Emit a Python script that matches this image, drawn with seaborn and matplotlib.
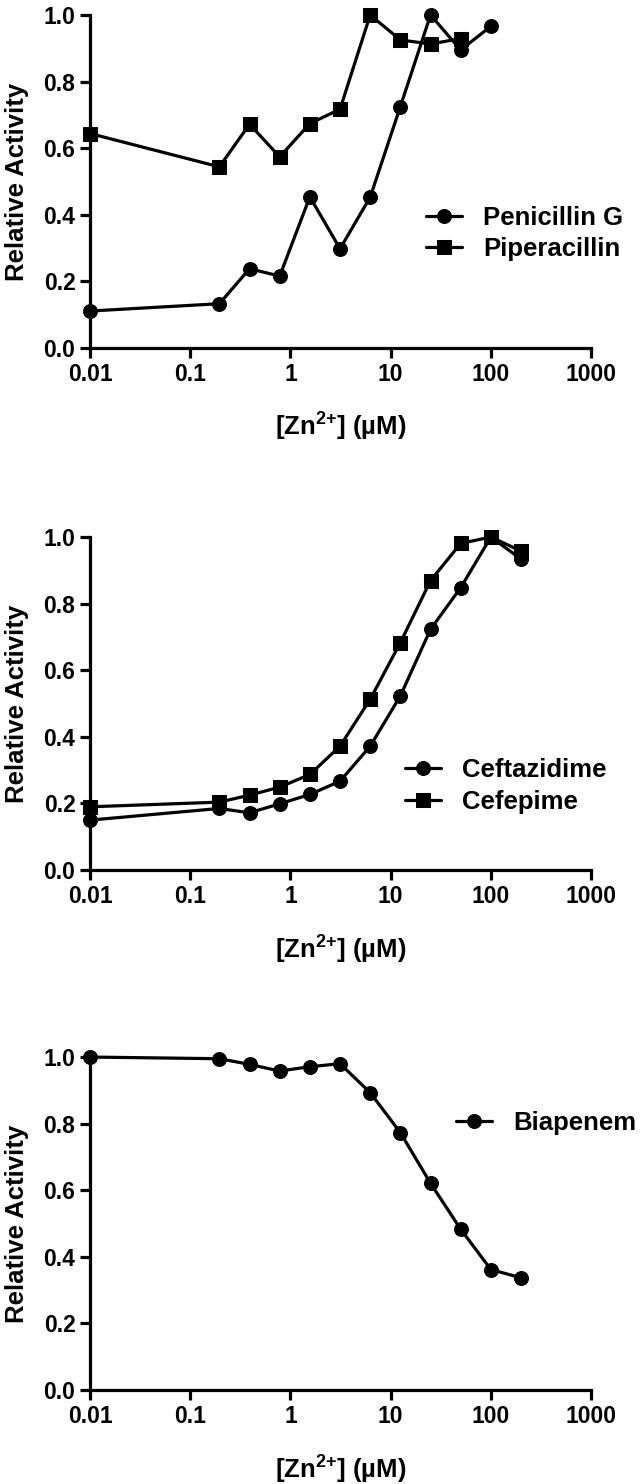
import pandas as pd
import matplotlib
matplotlib.use("Agg")
import matplotlib.pyplot as plt
import seaborn as sns

# zinc concentrations (uM); the zero point is drawn at 0.01 on the log axis
zn = [0.01, 0.1953, 0.3906, 0.78125, 1.5625, 3.125, 6.25, 12.5, 25, 50, 100, 200]

penicillin_g = [0.111, 0.133, 0.238, 0.216, 0.454, 0.298, 0.453, 0.725, 1.0, 0.895, 0.966]
piperacillin = [0.644, 0.544, 0.672, 0.574, 0.674, 0.717, 1.0, 0.925, 0.913, 0.929]
ceftazidime = [0.150, 0.185, 0.172, 0.199, 0.227, 0.267, 0.372, 0.523, 0.723, 0.848, 1.0, 0.934]
cefepime = [0.190, 0.204, 0.225, 0.249, 0.287, 0.372, 0.513, 0.683, 0.869, 0.981, 1.0, 0.958]
biapenem = [1.0, 0.995, 0.978, 0.958, 0.971, 0.980, 0.893, 0.773, 0.621, 0.483, 0.362, 0.337]

xtick_vals = [0.01, 0.1, 1, 10, 100, 1000]
xtick_labels = ["0.01", "0.1", "1", "10", "100", "1000"]
ytick_vals = [0.0, 0.2, 0.4, 0.6, 0.8, 1.0]

sns.set_theme(style="ticks")
plt.rcParams["font.family"] = ["Liberation Sans", "DejaVu Sans"]
plt.rcParams["font.weight"] = "bold"
plt.rcParams["text.color"] = "black"
plt.rcParams["axes.labelcolor"] = "black"
plt.rcParams["xtick.color"] = "black"
plt.rcParams["ytick.color"] = "black"
plt.rcParams["mathtext.fontset"] = "custom"
plt.rcParams["mathtext.rm"] = "Liberation Sans:bold"
plt.rcParams["mathtext.bf"] = "Liberation Sans:bold"
plt.rcParams["mathtext.default"] = "bf"

fig = plt.figure(figsize=(6.44, 14.84), dpi=100)

panels = [
    (0.7655, [("Penicillin G", penicillin_g, "o"), ("Piperacillin", piperacillin, "s")], (0.671, 0.344)),
    (0.4137, [("Ceftazidime", ceftazidime, "o"), ("Cefepime", cefepime, "s")], (0.629, 0.252)),
    (0.0633, [("Biapenem", biapenem, "o")], (0.731, 0.803)),
]

for bottom, series, leg_pos in panels:
    ax = fig.add_axes([0.1398, bottom, 0.778, 0.2244])
    ax.set_xscale("log")
    for name, vals, mk in series:
        df = pd.DataFrame({"zn": zn[:len(vals)], "act": vals})
        sns.lineplot(data=df, x="zn", y="act", ax=ax, color="black", marker=mk,
                     markersize=10 if mk == "o" else 9.5, markeredgecolor="black",
                     linewidth=2.3, label=name, clip_on=False, zorder=3)

    ax.set_xlim(0.01, 1000)
    ax.set_ylim(0, 1)
    ax.set_xticks(xtick_vals)
    ax.set_xticklabels(xtick_labels)
    ax.xaxis.set_minor_locator(matplotlib.ticker.NullLocator())
    ax.set_yticks(ytick_vals)
    ax.set_yticklabels([f"{v:.1f}" for v in ytick_vals])
    ax.tick_params(axis="both", length=7, width=2.3, labelsize=16.5, pad=3.5,
                   color="black", labelcolor="black")
    for lbl in ax.get_xticklabels() + ax.get_yticklabels():
        lbl.set_fontweight("bold")

    sns.despine(ax=ax)
    for side in ["left", "bottom"]:
        ax.spines[side].set_linewidth(2.3)
        ax.spines[side].set_color("black")

    ax.set_ylabel("Relative Activity", fontsize=18.5, fontweight="bold", color="black")
    ax.set_xlabel(r"[Zn$^{2\!+}\!$] (µM)", fontsize=18.5, fontweight="bold", color="black")
    ax.yaxis.set_label_coords(-0.122, 0.5)
    ax.xaxis.set_label_coords(0.5, -0.19)

    leg = ax.legend(loc="center left", bbox_to_anchor=leg_pos, frameon=False,
                    prop={"size": 18.5, "weight": "bold"}, handlelength=1.4,
                    handletextpad=0.8, labelspacing=0.3, borderpad=0, borderaxespad=0)
    for t in leg.get_texts():
        t.set_color("black")

fig.savefig("out.png", dpi=100, facecolor="white")
